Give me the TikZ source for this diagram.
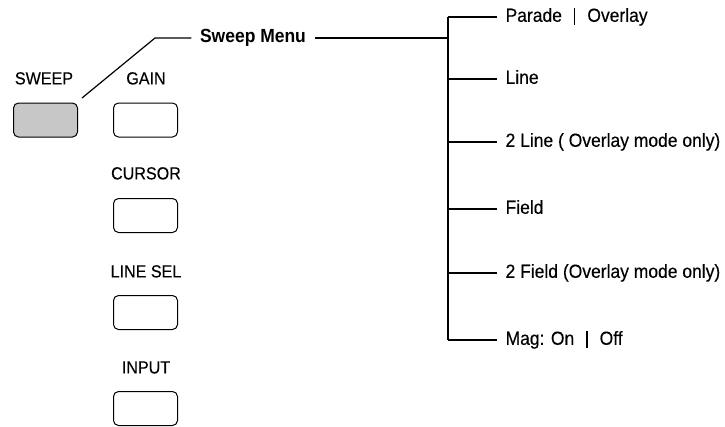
\documentclass[tikz,border=0pt]{standalone}
\usepackage{fontspec}
\setmainfont[FakeStretch=0.92]{Liberation Sans}
\newfontfamily\regfont[FakeStretch=0.92,FakeBold=0.3]{Liberation Sans}
\newcommand{\sepbar}{\kern12pt\rule[-3.5pt]{1.4pt}{17pt}\kern12pt}
\begin{document}
\begin{tikzpicture}[x=1pt,y=-1pt,line width=1.2pt,
  btn/.style={draw,rounded corners=5pt,minimum width=64pt,minimum height=34pt,inner sep=0pt,line width=1pt},
  lbl/.style={font=\regfont\fontsize{17.5}{20}\selectfont,inner sep=0pt,text height=12.8pt,text depth=0pt},
  item/.style={font=\regfont\fontsize{19}{22}\selectfont,inner ysep=0pt,inner xsep=8pt,anchor=west,text height=13.6pt,text depth=4pt},
  menu/.style={font=\bfseries\fontsize{19}{22}\selectfont,inner ysep=0pt,inner xsep=8pt,text height=13.6pt,text depth=4pt}]
\useasboundingbox (0,0) rectangle (725,426);
% buttons and labels
\node[lbl] (sweeplbl) at (44,78) {SWEEP};
\node[btn,fill=black!22] (sweepbtn) at (45.5,120) {};
\node[lbl] (gainlbl) at (146,78) {GAIN};
\node[btn] (gainbtn) at (145.5,120) {};
\node[lbl] (cursorlbl) at (146,173) {CURSOR};
\node[btn] (cursorbtn) at (145.5,215.5) {};
\node[lbl] (lineselbl) at (146,271) {LINE SEL};
\node[btn] (linesebtn) at (145.5,312.5) {};
\node[lbl] (inputlbl) at (146,367) {INPUT};
\node[btn] (inputbtn) at (145.5,408.5) {};
% menu
\coordinate (s0) at (82,98);
\coordinate (s1) at (155,38);
\node[menu] (menu) at (253,38) {Sweep Menu};
\coordinate (t0) at (448,38);
\draw (s0) -- (s1) -- (menu.west);
\draw (menu.east) -- (t0);
% items
\coordinate (t1) at (448,17);
\coordinate (t2) at (448,79);
\coordinate (t3) at (448,142);
\coordinate (t4) at (448,209);
\coordinate (t5) at (448,273);
\coordinate (t6) at (448,340);
\node[item] (i1) at (497,17) {Parade\sepbar Overlay};
\node[item] (i2) at (497,79) {Line};
\node[item] (i3) at (497,142) {2 Line ( Overlay mode only)};
\node[item] (i4) at (497,209) {Field};
\node[item] (i5) at (497,273) {2 Field (Overlay mode only)};
\node[item] (i6) at (497,340) {Mag: On\sepbar Off};
\draw (t1) -- (t6);
\foreach \k in {1,...,6} \draw (t\k) -- (i\k.west);
\end{tikzpicture}
\end{document}
